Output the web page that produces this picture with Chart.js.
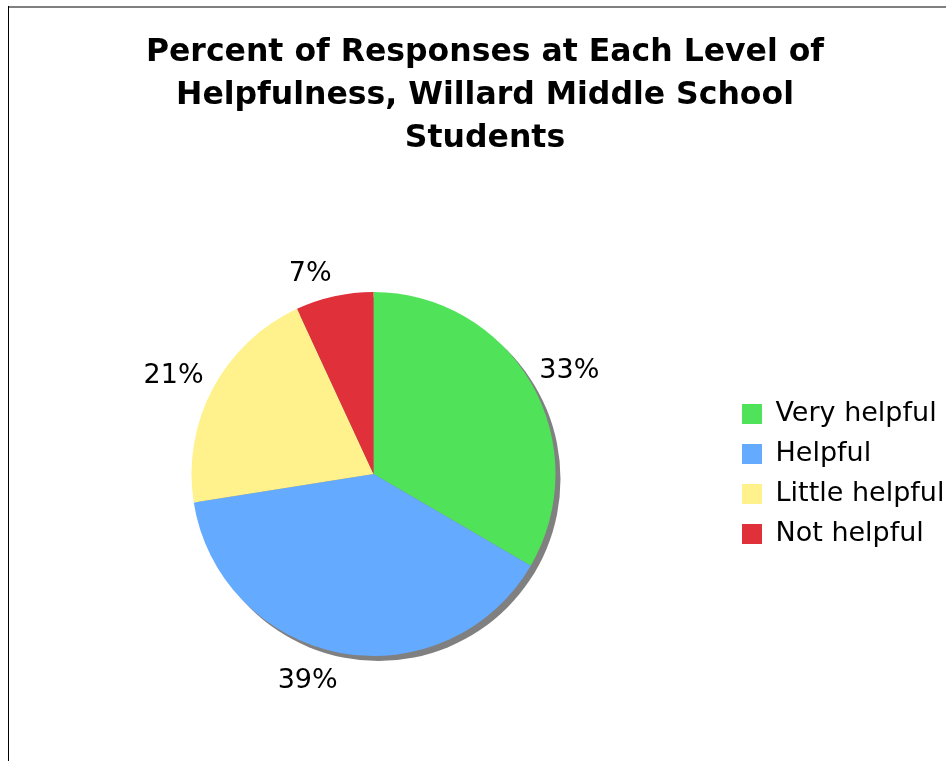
<!DOCTYPE html>
<html>
<head>
<meta charset="utf-8">
<script src="https://cdn.jsdelivr.net/npm/chart.js@4.4.1/dist/chart.umd.min.js"></script>
<style>
  html, body { margin: 0; padding: 0; background: #fff; overflow: hidden; }
  #wrap { position: absolute; left: 0; top: 0; width: 946px; height: 761px; overflow: hidden; }
  #box { position: absolute; left: 0; top: 0; width: 960px; height: 761px; }
  #frameTop { position: absolute; left: 8px; top: 6px; width: 950px; height: 0; border-top: 2px solid #808080; }
  #frameLeft { position: absolute; left: 8px; top: 6px; width: 0; height: 760px; border-left: 1px solid #000; }
</style>
</head>
<body>
<div id="wrap">
  <div id="box"><canvas id="c" width="960" height="761"></canvas></div>
  <div id="frameTop"></div>
  <div id="frameLeft"></div>
</div>
<script>
const chartTitle = ['Percent of Responses at Each Level of', 'Helpfulness, Willard Middle School', 'Students'];
const categories = ['Very helpful', 'Helpful', 'Little helpful', 'Not helpful'];
const percentValues = [33.4, 39.1, 20.6, 6.9];
const percentLabels = ['33%', '39%', '21%', '7%'];
const sliceColors = ['#50E35A', '#64AAFF', '#FFF28C', '#E0303A'];

const FONT = "'DejaVu Sans', Verdana, sans-serif";

const shadowPlugin = {
  id: 'pieShadow',
  beforeDatasetsDraw(chart) {
    const meta = chart.getDatasetMeta(0);
    if (!meta.data.length) return;
    const a = meta.data[0];
    const ctx = chart.ctx;
    ctx.save();
    ctx.fillStyle = '#808080';
    ctx.beginPath();
    ctx.arc(a.x + 5, a.y + 5, a.outerRadius, 0, Math.PI * 2);
    ctx.fill();
    ctx.restore();
  }
};

// Excel-style outside-end labels: the label box corner nearest the pie sits on the radial line
const labelPlugin = {
  id: 'outsideLabels',
  afterDatasetsDraw(chart) {
    const meta = chart.getDatasetMeta(0);
    const ctx = chart.ctx;
    ctx.save();
    ctx.font = '27px ' + FONT;
    ctx.fillStyle = '#000';
    ctx.textAlign = 'left';
    ctx.textBaseline = 'alphabetic';
    meta.data.forEach((arc, i) => {
      const mid = (arc.startAngle + arc.endAngle) / 2;
      const ux = Math.cos(mid), uy = Math.sin(mid);
      const txt = percentLabels[i];
      const m = ctx.measureText(txt);
      const w = m.actualBoundingBoxLeft + m.actualBoundingBoxRight;
      const h = m.actualBoundingBoxAscent + m.actualBoundingBoxDescent;
      const g = 10 + 6 * uy * uy;
      const px = arc.x + (arc.outerRadius + g) * ux;
      const py = arc.y + (arc.outerRadius + g) * uy;
      const left = ux < 0 ? px - w : px;
      const top = uy < 0 ? py - h : py;
      ctx.fillText(txt, left + m.actualBoundingBoxLeft, top + m.actualBoundingBoxAscent);
    });
    ctx.restore();
  }
};

new Chart(document.getElementById('c'), {
  type: 'pie',
  data: {
    labels: categories,
    datasets: [{
      data: percentValues,
      backgroundColor: sliceColors,
      borderWidth: 0,
      hoverOffset: 0
    }]
  },
  options: {
    responsive: false,
    animation: false,
    events: [],
    layout: { padding: { left: 18, right: 8, top: 0, bottom: 105 } },
    plugins: {
      title: {
        display: true,
        text: chartTitle,
        color: '#000',
        font: { family: FONT, size: 31.5, weight: 'bold', lineHeight: 43 / 31.5 },
        padding: { top: 31, bottom: 132 }
      },
      legend: {
        position: 'right',
        align: 'start',
        maxWidth: 223,
        title: {
          display: true,
          text: '',
          font: { family: FONT, size: 10, lineHeight: 1 },
          padding: { top: 377.5, bottom: 0 }
        },
        labels: {
          boxWidth: 20,
          boxHeight: 20,
          padding: 13,
          color: '#000',
          font: { family: FONT, size: 27 }
        }
      },
      tooltip: { enabled: false }
    }
  },
  plugins: [shadowPlugin, labelPlugin]
});
</script>
</body>
</html>
